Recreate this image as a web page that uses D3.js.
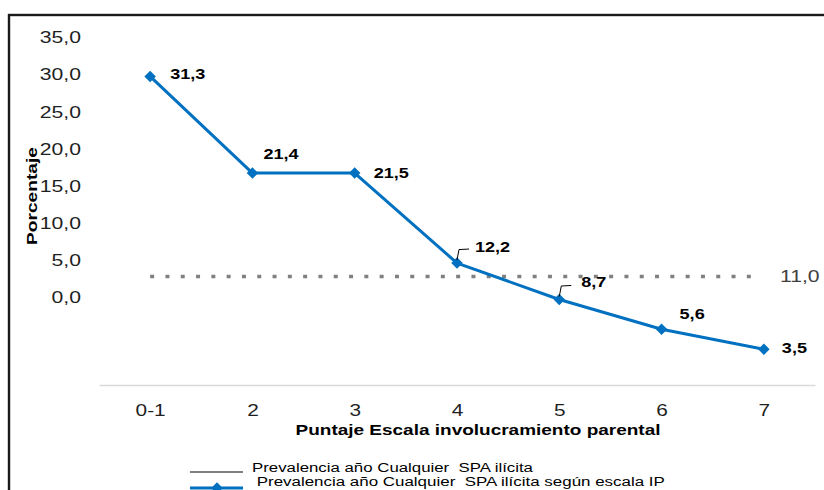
<!DOCTYPE html>
<html>
<head>
<meta charset="utf-8">
<script src="https://cdn.jsdelivr.net/npm/d3@7"></script>
<style>
  html, body { margin: 0; padding: 0; background: #fff; }
  svg { display: block; }
  text { font-family: "Liberation Sans", Arial, sans-serif; white-space: pre; }
</style>
</head>
<body>
<svg id="chart" width="824" height="490"></svg>
<script>
// ---------- data ----------
const categories = ["0-1", "2", "3", "4", "5", "6", "7"];
// plotted heights (in axis units)
const plottedValues = [29.7, 16.7, 16.7, 4.6, -0.3, -4.3, -7.0];
// values printed as data labels
const labelValues = [31.3, 21.4, 21.5, 12.2, 8.7, 5.6, 3.5];
const yTicks = [0, 5, 10, 15, 20, 25, 30, 35];
const refPlotted = 2.8;      // plotted height of the dotted reference line
const refLabel = 11.0;       // value printed next to it
const yTitle = "Porcentaje";
const xTitle = "Puntaje Escala involucramiento parental";
const legendLabels = [
  "Prevalencia año Cualquier  SPA ilícita",
  " Prevalencia año Cualquier  SPA ilícita según escala IP"
];

// ---------- layout ----------
const svg = d3.select("#chart");
const W = 824, H = 490;
const fmt = v => d3.format(".1f")(v).replace(".", ",");
const blue = "#0070C0", gray = "#808080";

const x = d3.scalePoint().domain(categories).range([99, 815]).padding(0.5);
const y = d3.scaleLinear().domain([-11.8, 35]).range([385, 37]);

// helper: horizontally stretch text about its anchor
function stretch(sel, sx) {
  sel.each(function () {
    const t = d3.select(this);
    const tx = +t.attr("x") || 0, ty = +t.attr("y") || 0;
    t.attr("x", 0).attr("y", 0)
     .attr("transform", `translate(${tx},${ty}) scale(${sx},1)`);
  });
}
function fitWidth(sel, target) {
  const w = sel.node().getComputedTextLength();
  stretch(sel, target / w);
}

// frame
svg.append("rect")
  .attr("x", 9).attr("y", 15).attr("width", W + 20).attr("height", H + 20)
  .attr("fill", "none").attr("stroke", "#1a1a1a").attr("stroke-width", 2.4);

// y axis (labels only)
const yAxis = svg.append("g")
  .attr("transform", "translate(81,0)")
  .call(d3.axisLeft(y).tickValues(yTicks).tickSize(0).tickPadding(0).tickFormat(fmt));
yAxis.select(".domain").remove();
yAxis.selectAll("text")
  .attr("font-size", 15.8).attr("fill", "#1f1f1f")
  .attr("font-family", "Liberation Sans, Arial, sans-serif")
  .attr("dy", "0.36em");
yAxis.selectAll("text").each(function () {
  d3.select(this).attr("transform", "scale(1.34,1)").attr("x", 0);
});

// x axis
const xAxis = svg.append("g")
  .attr("transform", `translate(0,${y(-11.8)})`)
  .call(d3.axisBottom(x).tickSize(0).tickPadding(0));
xAxis.select(".domain").attr("stroke", "#d9d9d9").attr("stroke-width", 1.6);
xAxis.selectAll("text")
  .attr("font-size", 15.8).attr("fill", "#1f1f1f")
  .attr("font-family", "Liberation Sans, Arial, sans-serif")
  .attr("dy", null).attr("y", 0)
  .attr("transform", "translate(0,31) scale(1.32,1)");

// axis titles
const xt = svg.append("text")
  .attr("x", 478).attr("y", 435).attr("text-anchor", "middle")
  .attr("font-size", 14.8).attr("font-weight", "bold").attr("fill", "#000")
  .text(xTitle);
fitWidth(xt, 365);

const ytG = svg.append("g").attr("transform", "translate(37,196) rotate(-90)");
const yt = ytG.append("text")
  .attr("x", 0).attr("y", 0).attr("text-anchor", "middle")
  .attr("font-size", 15.3).attr("font-weight", "bold").attr("fill", "#000")
  .text(yTitle);
fitWidth(yt, 98);

// reference dotted line
svg.append("line")
  .attr("x1", x(categories[0])).attr("x2", x(categories[categories.length - 1]) - 5)
  .attr("y1", y(refPlotted)).attr("y2", y(refPlotted))
  .attr("stroke", gray).attr("stroke-width", 3.4)
  .attr("stroke-dasharray", "4 11.3");
const rl = svg.append("text")
  .attr("x", 780).attr("y", y(refPlotted) + 5.6)
  .attr("font-size", 15.8).attr("fill", "#404040")
  .text(fmt(refLabel));
stretch(rl, 1.34);

// main series
const pts = categories.map((c, i) => ({ c, v: plottedValues[i], lab: labelValues[i] }));
svg.append("path")
  .datum(pts)
  .attr("fill", "none").attr("stroke", blue).attr("stroke-width", 3)
  .attr("stroke-linejoin", "round")
  .attr("d", d3.line().x(d => x(d.c)).y(d => y(d.v)));

const diamond = d3.symbol().type(d3.symbolSquare).size(66);
svg.selectAll(".mk").data(pts).enter().append("path")
  .attr("class", "mk")
  .attr("d", diamond)
  .attr("fill", blue)
  .attr("transform", d => `translate(${x(d.c)},${y(d.v)}) rotate(45)`);

// data labels (offsets from the marker)
const labelOffsets = [[20, 3], [11, -14.5], [19, 4.5], [18, -11.5], [22, -12.5], [18, -10.5], [18, 3.5]];
const leaders = [false, false, false, true, true, false, false];
pts.forEach((d, i) => {
  const px = x(d.c), py = y(d.v);
  const t = svg.append("text")
    .attr("x", px + labelOffsets[i][0]).attr("y", py + labelOffsets[i][1])
    .attr("font-size", 15.2).attr("font-weight", "bold").attr("fill", "#000")
    .text(fmt(d.lab));
  stretch(t, 1.19);
  if (leaders[i]) {
    svg.append("path")
      .attr("d", `M${px},${py - 3}L${px + 2},${py - 13.5}L${px + 12},${py - 14}`)
      .attr("fill", "none").attr("stroke", "#000").attr("stroke-width", 1);
  }
});

// legend
svg.append("line").attr("x1", 190).attr("x2", 243).attr("y1", 472).attr("y2", 472)
  .attr("stroke", gray).attr("stroke-width", 2);
const l1 = svg.append("text").attr("x", 252).attr("y", 471.7)
  .attr("font-size", 13.3).attr("fill", "#000").text(legendLabels[0]);
fitWidth(l1, 281);

svg.append("line").attr("x1", 190).attr("x2", 243).attr("y1", 488).attr("y2", 488)
  .attr("stroke", blue).attr("stroke-width", 3);
svg.append("path").attr("d", diamond)
  .attr("fill", blue).attr("transform", "translate(217,488) rotate(45)");
const l2 = svg.append("text").attr("x", 252).attr("y", 485.7)
  .attr("font-size", 13.3).attr("fill", "#000").text(legendLabels[1]);
fitWidth(l2, 413);
</script>
</body>
</html>
